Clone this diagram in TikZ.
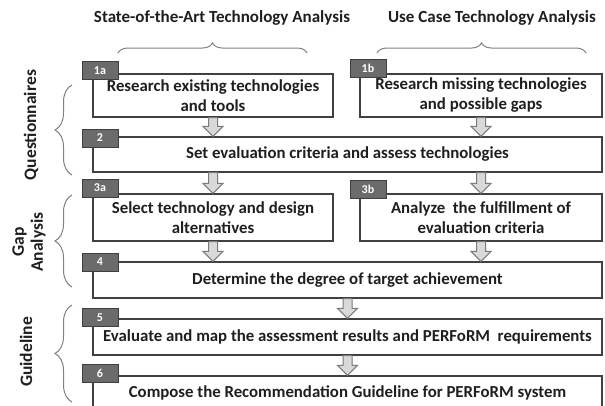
\documentclass[tikz,border=0pt]{standalone}
\usepackage{fontspec}
\setmainfont{Carlito}
\usetikzlibrary{calc,decorations.pathreplacing}
\definecolor{boxc}{HTML}{404040}
\definecolor{txt}{HTML}{1F1F1F}
\definecolor{tabf}{HTML}{6B6B6B}
\definecolor{tabb}{HTML}{3F3F3F}
\definecolor{arrf}{HTML}{D9D9D9}
\definecolor{arrd}{HTML}{7A7A7A}
\definecolor{brc}{HTML}{808080}
\newcommand{\blkarrow}[2]{%
  \path (#1) coordinate (ArA) (#2) coordinate (ArB);
  \draw[barrow] ($(ArA)+(-4.5,0)$) -- ($(ArB)+(-4.5,-10)$) -- ($(ArB)+(-10,-10)$) -- (ArB)
     -- ($(ArB)+(10,-10)$) -- ($(ArB)+(4.5,-10)$) -- ($(ArA)+(4.5,0)$) -- cycle;}
\begin{document}
\begin{tikzpicture}[x=1pt,y=-1pt,
  box/.style={draw=boxc, line width=1.2pt, fill=white, inner sep=0pt, align=center,
    font=\bfseries\fontsize{16.8}{20}\selectfont, text=txt},
  tabbox/.style={draw=tabb, fill=tabf, line width=0.8pt, minimum width=36pt,
    minimum height=18pt, inner sep=0pt, text=white, font=\bfseries\fontsize{12}{13}\selectfont},
  title/.style={font=\bfseries\fontsize{17}{20}\selectfont, text=txt, inner sep=0pt},
  lab/.style={font=\bfseries\fontsize{17.5}{19}\selectfont, text=txt, inner sep=0pt, align=center, rotate=90},
  barrow/.style={draw=arrd, fill=arrf, line width=1pt, line join=miter},
  brc/.style={draw=brc, line width=1pt, decorate, decoration={brace, amplitude=#1}},
  brc/.default=10pt]
\useasboundingbox (0,0) rectangle (605,405);
\fill[white] (0,0) rectangle (605,405);

% titles
\node[title] (t1) at (222,18) {State-of-the-Art Technology Analysis};
\node[title] (t2) at (492,18) {Use Case Technology Analysis};
\draw[brc=10pt] (118,53) -- (307,53);
\draw[brc=10pt] (377,53) -- (586,53);

% side labels
\node[lab] (q) at (31,125) {Questionnaires};
\node[lab] (g) at (29,242) {Gap\\Analysis};
\node[lab] (gl) at (26,352) {Guideline};
\draw[brc=17pt] (72,175) -- (72,85);
\draw[brc=17pt] (72,287) -- (72,195);
\draw[brc=17pt] (72,402) -- (72,305);

% boxes
\node[box, minimum width=240pt, minimum height=43pt] (b1a) at (213,95.5) {Research existing technologies\\and tools};
\node[box, minimum width=242pt, minimum height=43pt] (b1b) at (481,95.5) {Research missing technologies\\and possible gaps};
\node[box, minimum width=509pt, minimum height=35pt] (b2) at (347.5,154.5) {Set evaluation criteria and assess technologies};
\node[box, minimum width=240pt, minimum height=47pt] (b3a) at (213,217.5) {Select technology and design\\alternatives};
\node[box, minimum width=242pt, minimum height=47pt] (b3b) at (481,217.5) {Analyze\ \ the fulfillment of\\evaluation criteria};
\node[box, minimum width=509pt, minimum height=36pt] (b4) at (347.5,280) {Determine the degree of target achievement};
\node[box, minimum width=509pt, minimum height=36pt] (b5) at (347.5,337) {Evaluate and map the assessment results and PERFoRM\ \ requirements};
\node[box, minimum width=509pt, minimum height=34pt] (b6) at (347.5,393) {Compose the Recommendation Guideline for PERFoRM system};

% tabs
\node[tabbox] at (100,70.5) {1a};
\node[tabbox] at (368,68.5) {1b};
\node[tabbox] at (100,138) {2};
\node[tabbox] at (100,188) {3a};
\node[tabbox] at (368,189) {3b};
\node[tabbox] at (100,262) {4};
\node[tabbox] at (100,317.5) {5};
\node[tabbox] at (100,373.5) {6};

% arrows
\blkarrow{b1a.south}{b1a.south |- b2.north}
\blkarrow{b1b.south}{b1b.south |- b2.north}
\blkarrow{b1a.south |- b2.south}{b3a.north}
\blkarrow{b1b.south |- b2.south}{b3b.north}
\blkarrow{b3a.south}{b3a.south |- b4.north}
\blkarrow{b3b.south}{b3b.south |- b4.north}
\blkarrow{b4.south}{b5.north}
\blkarrow{b5.south}{b6.north}
\end{tikzpicture}
\end{document}
